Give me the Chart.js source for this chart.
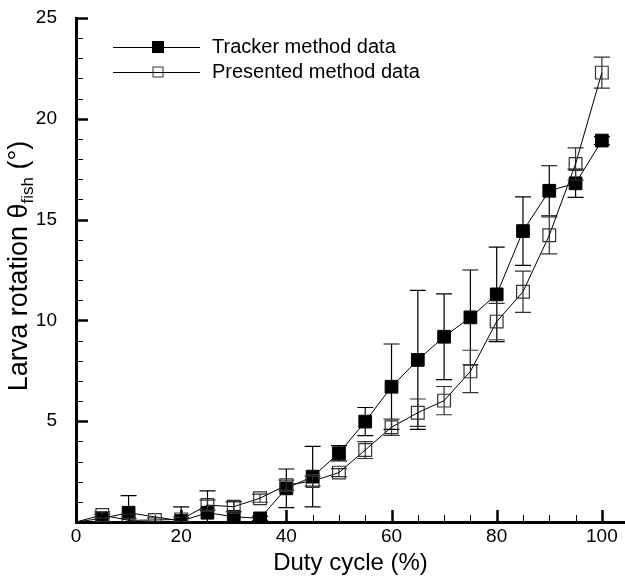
<!DOCTYPE html>
<html>
<head>
<meta charset="utf-8">
<script src="https://cdn.jsdelivr.net/npm/chart.js@4.4.0/dist/chart.umd.min.js"></script>
<style>
  html, body { margin: 0; padding: 0; background: #fff; }
  #wrap { position: relative; width: 625px; height: 578px; }
</style>
</head>
<body>
<div id="wrap"><canvas id="chart"></canvas></div>
<script>
// duty cycle (%) and larva rotation (deg)
const dutyCycle = [0, 5, 10, 15, 20, 25, 30, 35, 40, 45, 50, 55, 60, 65, 70, 75, 80, 85, 90, 95, 100];
const trackerData = [0, 0.18, 0.46, null, 0.05, 0.46, 0.26, 0.18, 1.67, 2.25, 3.41, 4.98, 6.71, 8.04, 9.19, 10.15, 11.29, 14.43, 16.43, 16.8, 18.92];
const trackerErr = [0, 0.2, 0.85, 0, 0.7, 1.08, 0.75, 0.1, 0.96, 1.5, 0.38, 0.7, 2.12, 3.45, 2.13, 2.35, 2.34, 1.7, 1.24, 0.7, 0.2];
const presentedData = [0, 0.35, 0.08, 0.1, 0.13, 0.84, 0.76, 1.18, 1.83, 2.03, 2.45, 3.57, 4.7, 5.42, 6.02, 7.47, 9.94, 11.42, 14.22, 17.76, 22.29];
const presentedErr = [0, 0.15, 0.1, 0.1, 0.1, 0.25, 0.25, 0.2, 0.25, 0.25, 0.2, 0.42, 0.4, 0.68, 0.7, 1.05, 0.9, 1.02, 0.92, 0.8, 0.77];
const xTickValues = [0, 20, 40, 60, 80, 100];
const yTickValues = [5, 10, 15, 20, 25];
const seriesLabels = ["Tracker method data", "Presented method data"];
const xTitle = "Duty cycle (%)";
const yTitleMain = "Larva rotation θ";
const yTitleSub = "fish";
const yTitleTail = " (°)";

const FONT = '"Liberation Sans", Arial, sans-serif';

const toPoints = (vals) => dutyCycle.map((x, i) => ({ x: x, y: vals[i] }));
// first point (0,0) only anchors the line, no marker
const radii = dutyCycle.map((x, i) => (i === 0 ? 0 : 9));

// vertical error bars with caps, drawn under the markers
const errorBars = {
  id: "errorBars",
  beforeDatasetDraw(chart, args) {
    const ds = chart.data.datasets[args.index];
    if (!ds.errors) return;
    const xs = chart.scales.x, ys = chart.scales.y;
    const area = chart.chartArea;
    const ctx = chart.ctx;
    ctx.save();
    ctx.beginPath();
    ctx.rect(area.left, area.top - 10, area.right - area.left, area.bottom - area.top + 10);
    ctx.clip();
    ctx.strokeStyle = ds.errorColor;
    ctx.lineWidth = 1.2;
    ds.data.forEach((p, i) => {
      const e = ds.errors[i];
      if (p.y == null || !e) return;
      const px = xs.getPixelForValue(p.x);
      const top = ys.getPixelForValue(p.y + e);
      const bot = ys.getPixelForValue(p.y - e);
      ctx.beginPath();
      ctx.moveTo(px, top); ctx.lineTo(px, bot);
      ctx.moveTo(px - 8, top); ctx.lineTo(px + 8, top);
      ctx.moveTo(px - 8, bot); ctx.lineTo(px + 8, bot);
      ctx.stroke();
    });
    ctx.restore();
  }
};

// inward tick marks, axis titles and the legend box
const decorations = {
  id: "decorations",
  afterDraw(chart) {
    const ctx = chart.ctx;
    const xs = chart.scales.x, ys = chart.scales.y;
    const area = chart.chartArea;
    ctx.save();
    ctx.strokeStyle = "#000";
    // x ticks
    for (let v = 5; v <= 100; v += 5) {
      const major = v % 20 === 0;
      const px = Math.round(xs.getPixelForValue(v)) + 0.5;
      ctx.lineWidth = major ? 2.5 : 1;
      ctx.beginPath();
      ctx.moveTo(px, area.bottom);
      ctx.lineTo(px, area.bottom - (major ? 12 : 7));
      ctx.stroke();
    }
    // y ticks
    for (let v = 1; v <= 25; v += 1) {
      const major = v % 5 === 0;
      const py = Math.round(ys.getPixelForValue(v)) + 0.5;
      ctx.lineWidth = major ? 2.5 : 1;
      ctx.beginPath();
      ctx.moveTo(area.left, py);
      ctx.lineTo(area.left + (major ? 12 : 7), py);
      ctx.stroke();
    }

    // x title
    ctx.fillStyle = "#000";
    ctx.font = "24px " + FONT;
    ctx.textAlign = "center";
    ctx.textBaseline = "alphabetic";
    ctx.fillText(xTitle, (area.left + area.right) / 2, 570);

    // y title with subscript
    ctx.save();
    ctx.translate(27, 266);
    ctx.rotate(-Math.PI / 2);
    const big = "27px " + FONT, small = "17px " + FONT;
    ctx.font = big;
    const w1 = ctx.measureText(yTitleMain).width;
    const w3 = ctx.measureText(yTitleTail).width;
    ctx.font = small;
    const w2 = ctx.measureText(yTitleSub).width;
    let x0 = -(w1 + w2 + w3) / 2;
    ctx.textAlign = "left";
    ctx.font = big;
    ctx.fillText(yTitleMain, x0, 0);
    ctx.font = small;
    ctx.fillText(yTitleSub, x0 + w1, 6);
    ctx.font = big;
    ctx.fillText(yTitleTail, x0 + w1 + w2, 0);
    ctx.restore();

    // legend
    const rows = [47, 72];
    chart.data.datasets.forEach((ds) => {
      const y = rows[ds.legendRow];
      ctx.strokeStyle = "#000";
      ctx.lineWidth = 1;
      ctx.beginPath();
      ctx.moveTo(113, y + 0.5); ctx.lineTo(200, y + 0.5);
      ctx.stroke();
      const s = ds.legendRow === 0 ? 12 : 11;
      if (ds.legendRow === 0) {
        ctx.fillStyle = "#000";
        ctx.fillRect(158 - s / 2, y - s / 2, s, s);
      } else {
        ctx.strokeStyle = "#333";
        ctx.strokeRect(158 - s / 2 + 0.5, y - s / 2 + 0.5, s - 1, s - 1);
      }
      ctx.fillStyle = "#000";
      ctx.font = "20px " + FONT;
      ctx.textAlign = "left";
      ctx.textBaseline = "middle";
      ctx.fillText(ds.label, 212, y);
    });
    ctx.restore();
  }
};

const ctx = document.getElementById("chart").getContext("2d");
new Chart(ctx, {
  type: "line",
  data: {
    datasets: [
      {
        label: seriesLabels[1],
        data: toPoints(presentedData),
        errors: presentedErr,
        errorColor: "#333",
        legendRow: 1,
        order: 0,
        borderColor: "#000",
        borderWidth: 1,
        backgroundColor: "rgba(0,0,0,0)",
        pointStyle: "rect",
        pointRadius: radii,
        pointBorderColor: "#333",
        pointBorderWidth: 1.2,
        pointBackgroundColor: "rgba(0,0,0,0)",
        tension: 0,
        fill: false,
      },
      {
        label: seriesLabels[0],
        data: toPoints(trackerData),
        errors: trackerErr,
        errorColor: "#000",
        legendRow: 0,
        order: 1,
        borderColor: "#000",
        borderWidth: 1,
        backgroundColor: "#000",
        pointStyle: "rect",
        pointRadius: radii,
        pointBorderColor: "#000",
        pointBorderWidth: 1,
        pointBackgroundColor: "#000",
        spanGaps: true,
        tension: 0,
        fill: false,
      },
    ],
  },
  options: {
    responsive: true,
    maintainAspectRatio: false,
    animation: false,
    events: [],
    layout: { autoPadding: false, padding: { top: 18, left: 0, right: 0, bottom: 0 } },
    plugins: { legend: { display: false }, tooltip: { enabled: false } },
    scales: {
      x: {
        type: "linear",
        min: 0,
        max: 104.4,
        afterBuildTicks: (scale) => { scale.ticks = xTickValues.map((v) => ({ value: v })); },
        afterFit: (scale) => {
          scale.height = 56;
          scale.paddingLeft = 0;
          scale.paddingRight = 0;
        },
        grid: { display: false, drawTicks: false },
        border: { display: true, color: "#000", width: 3 },
        ticks: {
          padding: 3,
          color: "#000",
          autoSkip: false,
          font: { family: FONT, size: 19 },
          maxRotation: 0,
        },
      },
      y: {
        min: 0,
        max: 25,
        afterBuildTicks: (scale) => { scale.ticks = yTickValues.map((v) => ({ value: v })); },
        afterFit: (scale) => {
          scale.width = 76;
          scale.paddingTop = 0;
          scale.paddingBottom = 0;
        },
        grid: { display: false, drawTicks: false },
        border: { display: true, color: "#000", width: 3 },
        ticks: {
          padding: 19,
          color: "#000",
          autoSkip: false,
          font: { family: FONT, size: 19 },
        },
      },
    },
  },
  plugins: [errorBars, decorations],
});
</script>
</body>
</html>
